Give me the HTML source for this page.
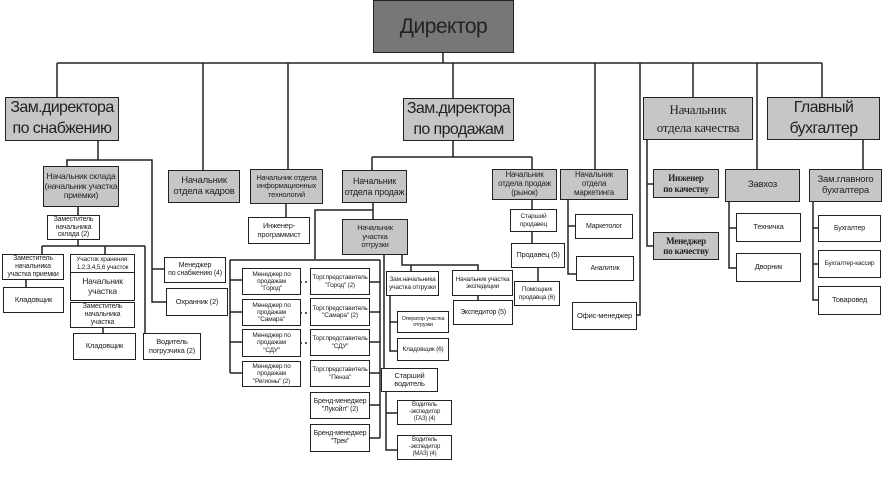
<!DOCTYPE html>
<html><head><meta charset="utf-8"><style>
body{margin:0;background:#fff;}
#c{position:relative;width:884px;height:478px;overflow:hidden;font-family:"Liberation Sans",sans-serif;color:#222;}
.b{position:absolute;box-sizing:border-box;border:1.5px solid #222;background:#fff;display:flex;align-items:center;justify-content:center;text-align:center;font-size:7.5px;line-height:1.12;overflow:hidden;letter-spacing:-0.2px;white-space:nowrap;}
.g{background:#c6c6c6;}
.big{font-size:16px;line-height:1.3;letter-spacing:-0.6px;}
.m{font-size:9.5px;}
.s{font-family:"Liberation Serif",serif;}
svg{position:absolute;left:0;top:0;}
</style></head><body><div id="c">
<svg width="884" height="478" stroke="#222" stroke-width="1.5" fill="none">
<path d="M443 52V63M57 63H822M57 63V97M203 63V170M288 63V169M453 63V98M595 63V169M640 63V315H637M693 63V97M757 63V169M822 63V97"/>
<path d="M453 140V157M372 157H532M372 157V170M532 157V169"/>
<path d="M98 140V160H67V166M67 160H152V302H166M152 269H164"/>
<path d="M78 207V216M78 240V246M42 246H145M42 246V254M105 246V254M145 246V333M26 280V287M103 328V333"/>
<path d="M286 203V217"/>
<path d="M373 203V210H315V259M373 210V219M230 260H380M230 260V373M230 280H242M230 312H242M230 342H242M230 373H242M380 260V438M370 282H380M370 312H380M370 342H380M370 373H380M370 405H380M370 438H380"/>
<path d="M402 255V265H478V271M411 265V271M390 296V351H397M390 322H397M478 296V300"/>
<path d="M384 255V368M386 392V450H397M386 413H397"/>
<path d="M532 200V209M532 232V243M538 268V281M568 200V274H576M568 226H575"/>
<path d="M647 140V246H653M647 184H653M729 202V268H736M729 228H736M863 140V169M813 202V300H818M813 264H818M813 228H818"/>
<path d="M300 282H310M300 313H310M300 343H310" stroke-dasharray="2 3"/>
</svg>
<div class="b" style="left:373px;top:0;width:141px;height:53px;background:#777;font-size:21px;letter-spacing:-0.5px;">Директор</div>
<div class="b g big" style="left:5px;top:97px;width:114px;height:44px;">Зам.директора<br>по снабжению</div>
<div class="b g big" style="left:403px;top:98px;width:111px;height:43px;">Зам.директора<br>по продажам</div>
<div class="b g s" style="left:643px;top:97px;width:110px;height:43px;font-size:13px;line-height:1.35;letter-spacing:-0.3px;">Начальник<br>отдела качества</div>
<div class="b g big" style="left:767px;top:97px;width:113px;height:43px;">Главный<br>бухгалтер</div>

<div class="b g" style="left:43px;top:166px;width:76px;height:41px;font-size:8.5px;">Начальник склада<br>(начальник участка<br>приемки)</div>
<div class="b g m" style="left:168px;top:170px;width:72px;height:33px;">Начальник<br>отдела кадров</div>
<div class="b g" style="left:250px;top:169px;width:73px;height:35px;font-size:7.5px;">Начальник отдела<br>информационных<br>технологий</div>
<div class="b g m" style="left:342px;top:170px;width:65px;height:33px;font-size:9px;">Начальник<br>отдела продаж</div>
<div class="b g" style="left:492px;top:169px;width:65px;height:31px;font-size:8px;">Начальник<br>отдела продаж<br>(рынок)</div>
<div class="b g" style="left:560px;top:169px;width:68px;height:31px;font-size:8px;">Начальник<br>отдела<br>маркетинга</div>
<div class="b g s" style="left:653px;top:169px;width:66px;height:29px;font-size:9px;font-weight:bold;">Инженер<br>по качеству</div>
<div class="b g s" style="left:653px;top:232px;width:66px;height:28px;font-size:9px;font-weight:bold;">Менеджер<br>по качеству</div>
<div class="b g m" style="left:725px;top:169px;width:75px;height:33px;">Завхоз</div>
<div class="b g m" style="left:809px;top:169px;width:73px;height:33px;">Зам.главного<br>бухгалтера</div>

<div class="b" style="left:47px;top:215px;width:53px;height:25px;font-size:7px;">Заместитель<br>начальника<br>склада (2)</div>
<div class="b" style="left:2px;top:254px;width:62px;height:26px;font-size:7px;">Заместитель<br>начальника<br>участка приемки</div>
<div class="b" style="left:3px;top:287px;width:61px;height:26px;">Кладовщик</div>
<div class="b" style="left:70px;top:254px;width:65px;height:19px;font-size:6.5px;">Участок хранения:<br>1,2,3,4,5,6 участок</div>
<div class="b" style="left:70px;top:272px;width:65px;height:29px;font-size:8.5px;">Начальник<br>участка</div>
<div class="b" style="left:70px;top:302px;width:65px;height:26px;font-size:7px;">Заместитель<br>начальника<br>участка</div>
<div class="b" style="left:73px;top:333px;width:63px;height:27px;">Кладовщик</div>
<div class="b" style="left:143px;top:333px;width:58px;height:27px;">Водитель<br>погрузчика (2)</div>
<div class="b" style="left:164px;top:257px;width:62px;height:26px;font-size:7px;">Менеджер<br>по снабжению (4)</div>
<div class="b" style="left:166px;top:288px;width:62px;height:28px;">Охранник (2)</div>

<div class="b" style="left:248px;top:217px;width:62px;height:27px;">Инженер-<br>программист</div>
<div class="b g" style="left:342px;top:219px;width:66px;height:36px;">Начальник<br>участка<br>отгрузки</div>

<div class="b" style="left:242px;top:268px;width:59px;height:27px;font-size:6.5px;">Менеджер по<br>продажам<br>"Город"</div>
<div class="b" style="left:242px;top:299px;width:59px;height:27px;font-size:6.5px;">Менеджер по<br>продажам<br>"Самара"</div>
<div class="b" style="left:242px;top:329px;width:59px;height:28px;font-size:6.5px;">Менеджер по<br>продажам<br>"СДУ"</div>
<div class="b" style="left:242px;top:361px;width:59px;height:26px;font-size:6.5px;">Менеджер по<br>продажам<br>"Регионы" (2)</div>
<div class="b" style="left:310px;top:268px;width:60px;height:27px;font-size:6.5px;">Торг.представитель<br>"Город" (2)</div>
<div class="b" style="left:310px;top:298px;width:60px;height:28px;font-size:6.5px;">Торг.представитель<br>"Самара" (2)</div>
<div class="b" style="left:310px;top:329px;width:60px;height:27px;font-size:6.5px;">Торг.представитель<br>"СДУ"</div>
<div class="b" style="left:310px;top:360px;width:60px;height:27px;font-size:6.5px;">Торг.представитель<br>"Пенза"</div>
<div class="b" style="left:310px;top:392px;width:60px;height:27px;font-size:7px;">Бренд-менеджер<br>"Лукойл" (2)</div>
<div class="b" style="left:310px;top:424px;width:60px;height:28px;font-size:7px;">Бренд-менеджер<br>"Трек"</div>

<div class="b" style="left:386px;top:271px;width:53px;height:25px;font-size:6.5px;">Зам.начальника<br>участка отгрузки</div>
<div class="b" style="left:397px;top:311px;width:52px;height:22px;font-size:5.5px;">Оператор участка<br>отгрузки</div>
<div class="b" style="left:397px;top:338px;width:52px;height:23px;font-size:6.5px;">Кладовщик (6)</div>
<div class="b" style="left:452px;top:270px;width:61px;height:26px;font-size:6.5px;">Начальник участка<br>экспедиции</div>
<div class="b" style="left:453px;top:300px;width:60px;height:25px;font-size:7px;">Экспедитор (5)</div>
<div class="b" style="left:381px;top:368px;width:57px;height:24px;">Старший<br>водитель</div>
<div class="b" style="left:397px;top:400px;width:55px;height:25px;font-size:6px;">Водитель<br>-экспедитор<br>(ГАЗ) (4)</div>
<div class="b" style="left:397px;top:435px;width:55px;height:25px;font-size:6px;">Водитель<br>-экспедитор<br>(МАЗ) (4)</div>

<div class="b" style="left:510px;top:209px;width:47px;height:23px;font-size:6.5px;">Старший<br>продавец</div>
<div class="b" style="left:511px;top:243px;width:54px;height:25px;">Продавец (5)</div>
<div class="b" style="left:514px;top:281px;width:46px;height:25px;font-size:6.5px;">Помощник<br>продавца (6)</div>
<div class="b" style="left:575px;top:214px;width:58px;height:25px;font-size:7px;">Маркетолог</div>
<div class="b" style="left:576px;top:256px;width:58px;height:25px;font-size:7px;">Аналитик</div>
<div class="b" style="left:572px;top:302px;width:65px;height:28px;">Офис-менеджер</div>

<div class="b" style="left:736px;top:213px;width:65px;height:29px;">Техничка</div>
<div class="b" style="left:736px;top:253px;width:65px;height:29px;">Дворник</div>
<div class="b" style="left:818px;top:215px;width:63px;height:27px;font-size:7px;">Бухгалтер</div>
<div class="b" style="left:818px;top:250px;width:63px;height:28px;font-size:6.5px;">Бухгалтер-кассир</div>
<div class="b" style="left:818px;top:286px;width:63px;height:29px;">Товаровед</div>
</div></body></html>
